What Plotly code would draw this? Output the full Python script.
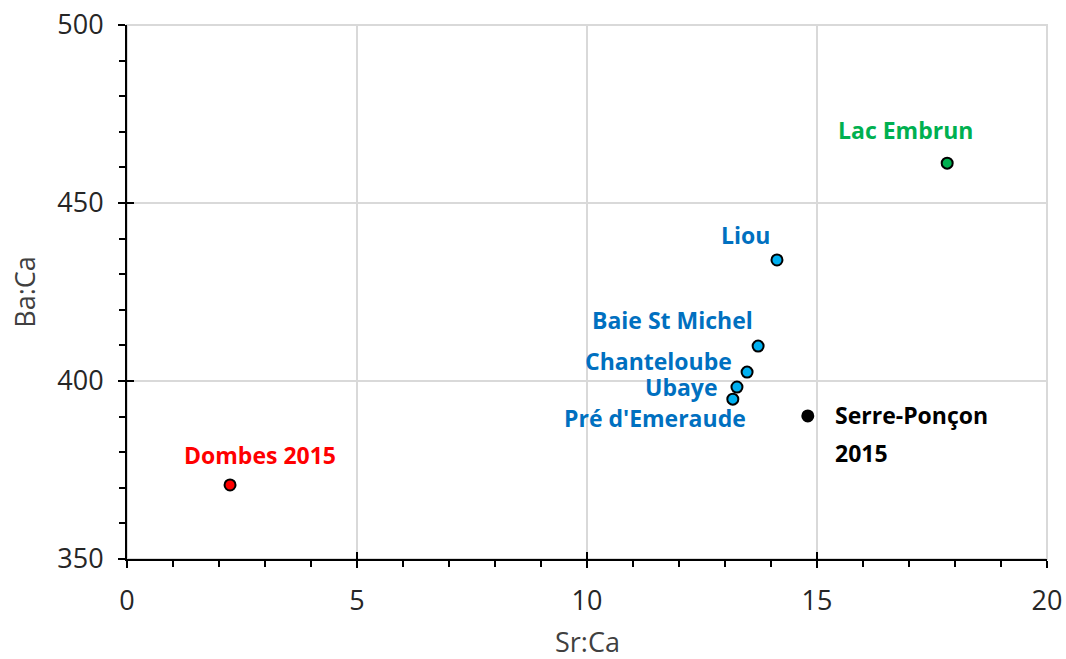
import plotly.graph_objects as go

names = ["Dombes 2015", "Lac Embrun", "Liou", "Baie St Michel", "Chanteloube", "Ubaye", "Pré d'Emeraude", "Serre-Ponçon 2015"]
sr_ca = [2.24, 17.83, 14.13, 13.72, 13.48, 13.26, 13.17, 14.80]
ba_ca = [370.8, 461.2, 434.0, 409.8, 402.5, 398.3, 394.9, 390.2]
fills = ["#FF0000", "#00B050", "#00B0F0", "#00B0F0", "#00B0F0", "#00B0F0", "#00B0F0", "#000000"]
label_colors = ["#FF0000", "#00B050", "#0070C0", "#0070C0", "#0070C0", "#0070C0", "#0070C0", "#000000"]
x_ticks = [0, 5, 10, 15, 20]
y_ticks = [350, 400, 450, 500]
x_range = [0, 20]
y_range = [350, 500]

# label offsets in pixels (xshift, yshift, xanchor)
offsets = [(30, 30, "center"), (-42, 33, "center"), (-31, 25, "center"), (-86, 26, "center"),
           (-89, 11, "center"), (-55, 0, "center"), (-78, -19, "center"), (25, 1, "left")]

FONT = "Open Sans"
LBL = 23
fig = go.Figure()

# light-grey frame for the top / right gridlines at 500 and 20
fig.add_shape(type="rect", xref="paper", yref="paper", x0=0, x1=1, y0=0, y1=1,
              line=dict(color="#D9D9D9", width=2), layer="below")

fig.add_trace(go.Scatter(
    x=sr_ca, y=ba_ca, mode="markers",
    marker=dict(size=11, color=fills, line=dict(color="black", width=2)),
    hoverinfo="text", text=names, showlegend=False, cliponaxis=False))

for i, n in enumerate(names):
    xs, ys, anc = offsets[i]
    text = n
    if n == "Serre-Ponçon 2015":
        text = "Serre-Ponçon"
        fig.add_annotation(x=sr_ca[i], y=ba_ca[i], text="2015", showarrow=False,
                           xshift=xs, yshift=-37, xanchor="left",
                           font=dict(family=FONT, size=LBL, color=label_colors[i], weight="bold"))
    fig.add_annotation(x=sr_ca[i], y=ba_ca[i], text=text, showarrow=False,
                       xshift=xs, yshift=ys, xanchor=anc,
                       font=dict(family=FONT, size=LBL, color=label_colors[i], weight="bold"))

# x-axis title
fig.add_annotation(xref="paper", yref="paper", x=0.5, y=0, yshift=-82, text="Sr:Ca",
                   showarrow=False, yanchor="middle",
                   font=dict(family=FONT, size=27, color="#404040"))

axis_common = dict(showline=True, linecolor="black", linewidth=2, showgrid=True,
                   gridcolor="#D9D9D9", gridwidth=2, zeroline=False, ticks="outside",
                   ticklen=7, tickwidth=2, tickcolor="black", automargin=False,
                   ticklabeloverflow="allow",
                   tickfont=dict(family=FONT, size=27, color="#262626"))

fig.update_xaxes(range=x_range, tickvals=x_ticks, ticklabelstandoff=10,
                 minor=dict(dtick=1, ticks="outside", ticklen=6, tickwidth=2, tickcolor="black", showgrid=False),
                 **axis_common)
fig.update_yaxes(range=y_range, tickvals=y_ticks, ticklabelstandoff=9,
                 minor=dict(dtick=10, ticks="outside", ticklen=6, tickwidth=2, tickcolor="black", showgrid=False),
                 title=dict(text="Ba:Ca", font=dict(family=FONT, size=27, color="#404040"), standoff=14),
                 **axis_common)

# inner halves of the major ticks (Excel "cross" tick marks)
fig.update_layout(
    xaxis2=dict(overlaying="x", range=x_range, tickvals=x_ticks, ticks="inside", ticklen=7,
                tickwidth=2, tickcolor="black", showticklabels=False, showgrid=False, showline=False,
                zeroline=False, side="bottom", automargin=False),
    yaxis2=dict(overlaying="y", range=y_range, tickvals=y_ticks, ticks="inside", ticklen=7,
                tickwidth=2, tickcolor="black", showticklabels=False, showgrid=False, showline=False,
                zeroline=False, side="left", automargin=False),
)
fig.add_trace(go.Scatter(x=[None], y=[None], xaxis="x2", yaxis="y2", showlegend=False, hoverinfo="skip"))

fig.update_layout(width=1066, height=659, margin=dict(l=127, r=19, t=25, b=100),
                  plot_bgcolor="white", paper_bgcolor="white")
fig.write_html("out.html", config={"displayModeBar": False},
               post_script="document.body.style.margin='0';document.body.style.overflow='hidden';")
